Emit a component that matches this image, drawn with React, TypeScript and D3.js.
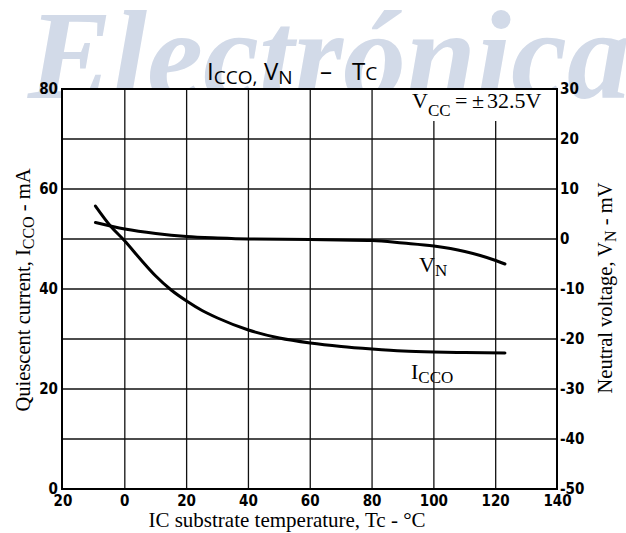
import React from "react";
import * as d3 from "d3";

// ---- data ----
const tempsI = [-9.5, -4.5, 0, 5, 10, 15, 20, 25, 30, 40, 50, 60, 70, 80, 90, 100, 110, 123];
const iccoValues = [56.6, 52.5, 49.6, 46.0, 42.6, 39.8, 37.6, 35.7, 34.2, 31.8, 30.2, 29.2, 28.5, 28.0, 27.6, 27.4, 27.3, 27.2];
const tempsV = [-9.5, 0, 10, 20, 30, 40, 60, 80, 90, 100, 110, 115, 120, 123];
const vnValues = [3.3, 2.0, 1.1, 0.5, 0.2, 0.0, -0.1, -0.3, -0.8, -1.4, -2.5, -3.3, -4.3, -5.0];

const xTicks = [-20, 0, 20, 40, 60, 80, 100, 120, 140];
const xTickLabels = ["20", "0", "20", "40", "60", "80", "100", "120", "140"];
const leftGrid = [0, 10, 20, 30, 40, 50, 60, 70, 80];
const leftTicks = [0, 20, 40, 60, 80];
const rightTicks = [30, 20, 10, 0, -10, -20, -30, -40, -50];

const W = 626, H = 533;
const L = 62, R = 557, T = 89, B = 489;

export default function App() {
  const x = d3.scaleLinear().domain([-20, 140]).range([63, 557.5]);
  const yI = d3.scaleLinear().domain([0, 80]).range([B, T]);
  const yV = d3.scaleLinear().domain([-50, 30]).range([B, T]);

  const lineI = d3.line<number>().x((d, i) => x(tempsI[i])).y((d) => yI(d)).curve(d3.curveMonotoneX);
  const lineV = d3.line<number>().x((d, i) => x(tempsV[i])).y((d) => yV(d)).curve(d3.curveMonotoneX);

  const serif = "'Liberation Serif', 'Times New Roman', serif";
  const tickFont = "'DejaVu Sans Condensed', 'DejaVu Sans', sans-serif";

  return (
    <div style={{ position: "fixed", left: 0, top: 0 }}>
      <svg width={W} height={H} style={{ display: "block", background: "#fff" }}>
        {/* watermark */}
        <text x={28} y={98} fontFamily={serif} fontWeight="bold" fontStyle="italic" fontSize={126} fill="#d2dae8">
          Electrónica
        </text>
        {/* plot background */}
        <rect x={L} y={T} width={R - L} height={B - T} fill="#fff" />
        {/* grid */}
        {xTicks.slice(1, -1).map((t) => (
          <line key={"gx" + t} x1={x(t)} x2={x(t)} y1={T} y2={B} stroke="#111" strokeWidth={1.3} />
        ))}
        {leftGrid.slice(1, -1).map((v) => (
          <line key={"gy" + v} x1={L} x2={R} y1={yI(v)} y2={yI(v)} stroke="#111" strokeWidth={1.3} />
        ))}
        {/* Vcc label background */}
        <rect x={410} y={T + 1} width={R - 411} height={31} fill="#fff" />
        <text y={108} fontFamily={serif} fontSize={22} fill="#000">
          <tspan x={412}>V</tspan>
          <tspan fontSize={17} dy={8}>CC</tspan>
          <tspan x={455} dy={-8}>=</tspan>
          <tspan x={472}>±</tspan>
          <tspan x={487}>32.5V</tspan>
        </text>
        {/* frame */}
        <rect x={L} y={T} width={R - L} height={B - T} fill="none" stroke="#000" strokeWidth={2} />
        {/* curves */}
        <path d={lineI(iccoValues) || ""} fill="none" stroke="#000" strokeWidth={3} strokeLinecap="round" />
        <path d={lineV(vnValues) || ""} fill="none" stroke="#000" strokeWidth={3} strokeLinecap="round" />
        {/* curve labels */}
        <text x={419} y={272} fontFamily={serif} fontSize={22} fill="#000">
          <tspan>V</tspan>
          <tspan fontSize={17} dy={4}>N</tspan>
        </text>
        <text x={411} y={379} fontFamily={serif} fontSize={22} fill="#000">
          <tspan>I</tspan>
          <tspan fontSize={17} dy={4}>CCO</tspan>
        </text>
        {/* left ticks */}
        {leftTicks.map((v) => (
          <text key={"lt" + v} x={58} y={yI(v)} dy="0.36em" textAnchor="end" fontFamily={tickFont} fontWeight="bold" fontSize={15} fill="#000">
            {v}
          </text>
        ))}
        {/* right ticks */}
        {rightTicks.map((v) => (
          <text key={"rt" + v} x={560} y={yV(v)} dy="0.36em" textAnchor="start" fontFamily={tickFont} fontWeight="bold" fontSize={15} fill="#000">
            {String(v)}
          </text>
        ))}
        {/* bottom ticks */}
        {xTicks.map((t, i) => (
          <text key={"bt" + t} x={x(t)} y={506} textAnchor="middle" fontFamily={tickFont} fontWeight="bold" fontSize={15} fill="#000">
            {xTickLabels[i]}
          </text>
        ))}
        {/* axis titles */}
        <text x={287} y={527} textAnchor="middle" fontFamily={serif} fontSize={21} fill="#000">
          IC substrate temperature, Tc - °C
        </text>
        <text transform="translate(30,290) rotate(-90)" textAnchor="middle" fontFamily={serif} fontSize={20.5} fill="#000">
          <tspan>Quiescent current, I</tspan>
          <tspan fontSize={16} dy={4}>CCO</tspan>
          <tspan dy={-4}> - mA</tspan>
        </text>
        <text transform="translate(612,288) rotate(-90)" textAnchor="middle" fontFamily={serif} fontSize={20.5} fill="#000">
          <tspan>Neutral voltage, V</tspan>
          <tspan fontSize={16} dy={4}>N</tspan>
          <tspan dy={-4}> - mV</tspan>
        </text>
        {/* title */}
        <text y={80} fontFamily="'Open Sans', 'Noto Sans', sans-serif" fontSize={24} fill="#000">
          <tspan x={207}>I</tspan>
          <tspan fontSize={19} dy={4}>CCO,</tspan>
          <tspan x={264} dy={-4}>V</tspan>
          <tspan fontSize={19} dy={4}>N</tspan>
          <tspan x={320} dy={-4}>–</tspan>
          <tspan x={352}>T</tspan>
          <tspan fontSize={19}>C</tspan>
        </text>
      </svg>
    </div>
  );
}
